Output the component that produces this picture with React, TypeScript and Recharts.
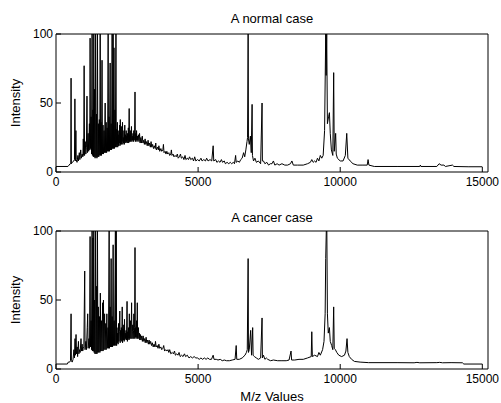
import React from 'react';
import { LineChart, Line, XAxis, YAxis } from 'recharts';

// m/z and intensity pairs
const normalSpectrum: [number, number][] = [
  [0, 4], [420, 4], [460, 5], [500, 6], [520, 6], [530, 68], [540, 6], [580, 7], [620, 8], [650, 9],
  [665, 53], [680, 8], [700, 30], [712, 9], [740, 7], [770, 12], [790, 8], [820, 14], [840, 9], [870, 16],
  [890, 10], [920, 13], [945, 11], [960, 24], [975, 12], [990, 77], [1005, 12], [1030, 22], [1050, 13], [1070, 18],
  [1090, 55], [1105, 14], [1130, 28], [1150, 15], [1175, 35], [1190, 16], [1200, 97], [1212, 17], [1235, 40], [1250, 13],
  [1270, 100], [1282, 12], [1300, 45], [1315, 11], [1330, 100], [1342, 11], [1360, 60], [1375, 10], [1395, 100], [1408, 11],
  [1425, 42], [1440, 10], [1460, 100], [1472, 11], [1490, 35], [1505, 11], [1525, 38], [1540, 12], [1555, 100], [1568, 12],
  [1585, 36], [1600, 12], [1620, 81], [1635, 13], [1655, 34], [1670, 13], [1690, 30], [1705, 14], [1730, 50], [1745, 14],
  [1765, 36], [1780, 14], [1800, 32], [1815, 15], [1835, 100], [1848, 15], [1865, 40], [1880, 15], [1905, 79], [1918, 16],
  [1940, 35], [1955, 16], [1975, 100], [1988, 17], [2010, 100], [2022, 17], [2040, 90], [2055, 17], [2075, 45], [2090, 18],
  [2110, 100], [2122, 18], [2140, 31], [2150, 20], [2160, 36], [2172, 18], [2185, 27], [2200, 19], [2212, 30], [2225, 21],
  [2238, 34], [2250, 19], [2262, 38], [2275, 20], [2288, 26], [2300, 20], [2312, 33], [2325, 22], [2340, 36], [2352, 20],
  [2365, 25], [2378, 21], [2392, 30], [2405, 20], [2420, 34], [2432, 22], [2445, 27], [2458, 21], [2470, 30], [2482, 22],
  [2495, 26], [2508, 21], [2520, 28], [2532, 23], [2545, 32], [2558, 21], [2575, 46], [2588, 22], [2602, 27], [2615, 22],
  [2628, 30], [2640, 23], [2655, 33], [2668, 22], [2682, 26], [2695, 23], [2710, 28], [2722, 22], [2738, 30], [2752, 23],
  [2765, 26], [2780, 58], [2792, 22], [2808, 28], [2822, 23], [2835, 30], [2850, 22], [2865, 26], [2880, 23], [2900, 27],
  [2920, 22], [2940, 28], [2960, 21], [2985, 25], [3010, 21], [3035, 26], [3060, 21], [3085, 23], [3110, 20], [3135, 24],
  [3160, 20], [3185, 22], [3210, 19], [3240, 23], [3265, 19], [3290, 21], [3320, 18], [3345, 22], [3370, 18], [3400, 20],
  [3430, 17], [3460, 19], [3490, 17], [3510, 21], [3530, 16], [3570, 18], [3600, 16], [3620, 19], [3650, 15], [3690, 17],
  [3720, 15], [3760, 16], [3780, 20], [3800, 14], [3840, 15], [3870, 13], [3900, 15], [3930, 13], [3970, 14], [4000, 12],
  [4040, 13], [4060, 16], [4080, 12], [4120, 13], [4150, 11], [4190, 12], [4230, 11], [4270, 13], [4300, 10], [4340, 11],
  [4380, 13], [4410, 10], [4460, 11], [4500, 9], [4540, 12], [4570, 9], [4620, 10], [4660, 9], [4700, 11], [4740, 9],
  [4800, 10], [4840, 8], [4880, 11], [4920, 8], [4980, 9], [5040, 8], [5100, 10], [5140, 8], [5200, 9], [5260, 8],
  [5300, 10], [5350, 8], [5420, 9], [5480, 8], [5530, 19], [5550, 8], [5620, 9], [5660, 7], [5720, 8], [5770, 7],
  [5820, 9], [5860, 7], [5920, 8], [5960, 6], [6020, 7], [6080, 6], [6130, 7], [6180, 6], [6240, 7], [6280, 6],
  [6320, 12], [6340, 7], [6400, 8], [6450, 7], [6500, 9], [6550, 10], [6600, 14], [6640, 11], [6680, 16], [6720, 22],
  [6740, 25], [6760, 100], [6772, 24], [6800, 20], [6840, 26], [6870, 14], [6900, 49], [6912, 12], [6950, 8], [7000, 10],
  [7050, 7], [7120, 8], [7200, 6], [7250, 50], [7262, 8], [7300, 8], [7350, 6], [7420, 7], [7480, 5], [7540, 6],
  [7600, 6], [7650, 8], [7700, 5], [7780, 6], [7850, 5], [7950, 6], [8050, 5], [8150, 5], [8250, 6], [8300, 8],
  [8350, 5], [8500, 5], [8700, 5], [8850, 6], [8950, 7], [9000, 9], [9050, 7], [9100, 8], [9150, 7], [9200, 10],
  [9250, 8], [9300, 12], [9350, 10], [9400, 12], [9450, 30], [9490, 100], [9505, 70], [9525, 100], [9550, 35], [9590, 40],
  [9620, 43], [9650, 28], [9690, 16], [9740, 12], [9770, 72], [9790, 15], [9840, 28], [9860, 13], [9900, 10], [10000, 8],
  [10100, 8], [10180, 12], [10230, 28], [10270, 10], [10350, 8], [10450, 6], [10600, 5], [10800, 5], [10950, 5], [10980, 9],
  [11010, 5], [11200, 4], [12000, 4], [12800, 4], [12820, 5], [12840, 4], [13400, 4], [13480, 6], [13550, 5], [13650, 5],
  [13700, 4], [13950, 5], [14000, 4], [14500, 3.8], [15000, 3.8],
];

const cancerSpectrum: [number, number][] = [
  [0, 3.6], [400, 3.6], [430, 5], [480, 5], [510, 6], [530, 40], [542, 6], [570, 5], [600, 7], [630, 14],
  [650, 8], [670, 22], [685, 10], [705, 25], [720, 11], [745, 16], [760, 9], [790, 20], [805, 11], [830, 14],
  [850, 12], [880, 22], [895, 13], [920, 18], [940, 13], [960, 15], [980, 16], [1010, 71], [1022, 14], [1050, 20],
  [1070, 14], [1100, 30], [1115, 40], [1130, 15], [1160, 22], [1180, 15], [1200, 96], [1212, 16], [1235, 35], [1250, 14],
  [1270, 100], [1282, 13], [1300, 95], [1312, 13], [1330, 100], [1342, 12], [1360, 50], [1372, 11], [1395, 100], [1408, 11],
  [1430, 60], [1442, 11], [1460, 100], [1472, 12], [1490, 45], [1505, 12], [1530, 38], [1545, 12], [1560, 55], [1575, 13],
  [1600, 35], [1615, 13], [1640, 48], [1655, 13], [1670, 50], [1685, 14], [1710, 40], [1725, 14], [1750, 33], [1765, 14],
  [1790, 40], [1805, 15], [1830, 30], [1845, 15], [1870, 100], [1882, 15], [1905, 45], [1920, 16], [1940, 80], [1953, 16],
  [1975, 38], [1990, 16], [2010, 90], [2022, 17], [2045, 35], [2060, 17], [2090, 100], [2102, 17], [2120, 100], [2132, 17],
  [2145, 30], [2158, 19], [2172, 26], [2185, 18], [2200, 33], [2212, 20], [2228, 27], [2245, 42], [2258, 19], [2272, 28],
  [2285, 21], [2300, 30], [2315, 20], [2330, 45], [2342, 19], [2356, 29], [2370, 21], [2385, 32], [2398, 20], [2410, 36],
  [2422, 21], [2436, 26], [2450, 22], [2465, 28], [2480, 21], [2500, 49], [2512, 20], [2526, 27], [2540, 22], [2555, 30],
  [2568, 21], [2580, 40], [2593, 22], [2607, 28], [2620, 35], [2633, 22], [2646, 29], [2660, 48], [2672, 22], [2686, 27],
  [2700, 32], [2714, 22], [2728, 28], [2740, 40], [2753, 22], [2766, 30], [2780, 88], [2792, 23], [2805, 30], [2818, 22],
  [2832, 35], [2846, 23], [2860, 48], [2872, 22], [2886, 27], [2900, 30], [2915, 22], [2932, 26], [2950, 21], [2968, 25],
  [2990, 21], [3015, 24], [3040, 20], [3065, 24], [3090, 20], [3115, 22], [3140, 19], [3170, 23], [3195, 19], [3220, 21],
  [3250, 18], [3275, 21], [3300, 18], [3330, 20], [3360, 17], [3390, 19], [3420, 16], [3450, 18], [3480, 16], [3500, 20],
  [3525, 16], [3560, 17], [3590, 15], [3620, 18], [3650, 15], [3690, 16], [3720, 14], [3760, 15], [3790, 17], [3820, 13],
  [3860, 14], [3900, 13], [3940, 14], [3970, 12], [4000, 14], [4040, 11], [4090, 12], [4130, 11], [4170, 13], [4200, 10],
  [4250, 11], [4290, 10], [4330, 12], [4370, 9], [4420, 10], [4470, 9], [4520, 11], [4560, 9], [4620, 10], [4680, 8],
  [4740, 9], [4800, 8], [4860, 9], [4920, 8], [4980, 8], [5040, 7], [5100, 8], [5160, 7], [5220, 8], [5280, 7],
  [5340, 8], [5400, 7], [5470, 7], [5530, 10], [5560, 7], [5640, 7], [5700, 6.5], [5780, 7], [5850, 6], [5920, 6.5],
  [6000, 6], [6100, 6], [6200, 6.5], [6300, 7], [6340, 17], [6360, 7], [6450, 7], [6550, 8], [6650, 10], [6700, 12],
  [6730, 14], [6760, 80], [6772, 12], [6800, 14], [6850, 28], [6880, 10], [6920, 30], [6935, 10], [6980, 9], [7050, 8],
  [7120, 7], [7200, 8], [7250, 37], [7262, 8], [7300, 10], [7350, 7], [7400, 8], [7450, 7], [7550, 6], [7650, 6.5],
  [7800, 6], [7950, 6], [8100, 6], [8200, 6.5], [8270, 13], [8290, 6.5], [8400, 6.5], [8550, 7], [8700, 7], [8850, 8],
  [8980, 9], [9000, 27], [9020, 9], [9100, 10], [9200, 9], [9250, 12], [9300, 10], [9380, 14], [9430, 20], [9470, 40],
  [9490, 80], [9510, 100], [9530, 100], [9550, 40], [9580, 26], [9620, 30], [9650, 20], [9700, 17], [9740, 14], [9770, 45],
  [9790, 15], [9830, 14], [9880, 12], [9950, 10], [10050, 9], [10150, 10], [10200, 13], [10240, 22], [10270, 12], [10320, 9],
  [10400, 7], [10500, 5.5], [10700, 5], [11000, 4.6], [12000, 4.6], [12600, 4.5], [12700, 4.8], [12800, 4.5], [13400, 4.6], [13500, 4.8],
  [13600, 4.5], [13900, 4.6], [14300, 4.5], [14350, 3.6], [15000, 3.6],
];

const xTicks = [0, 5000, 10000, 15000];
const yTicks = [0, 50, 100];
const titles = ['A normal case', 'A cancer case'];

const FONT = '"Liberation Sans", Arial, Helvetica, sans-serif';
const W = 501;

const tickStyle = { fontSize: 12, fill: '#000', fontFamily: FONT };

type PanelProps = {
  spectrum: [number, number][];
  top: number;
  height: number;
  margin: { top: number; right: number; bottom: number; left: number };
};

const Panel = ({ spectrum, top, height, margin }: PanelProps) => {
  const data = spectrum.map(([mz, intensity]) => ({ mz, intensity }));
  return (
    <div style={{ position: 'absolute', left: 0, top, width: W, height }}>
      <LineChart width={W} height={height} data={data} margin={margin}>
        <XAxis
          xAxisId="bottom"
          dataKey="mz"
          type="number"
          domain={[0, 15200]}
          ticks={xTicks}
          interval={0}
          allowDataOverflow
          height={20}
          stroke="#000"
          tickSize={-5}
          tickMargin={10}
          tick={tickStyle}
        />
        <XAxis
          xAxisId="top"
          orientation="top"
          dataKey="mz"
          type="number"
          domain={[0, 15200]}
          ticks={xTicks}
          interval={0}
          allowDataOverflow
          height={1}
          stroke="#000"
          tickSize={-5}
          tick={false}
        />
        <YAxis
          yAxisId="left"
          type="number"
          domain={[0, 100]}
          ticks={yTicks}
          interval={0}
          allowDataOverflow
          width={56}
          stroke="#000"
          tickSize={-5}
          tickMargin={8}
          tick={tickStyle}
        />
        <YAxis
          yAxisId="right"
          orientation="right"
          type="number"
          domain={[0, 100]}
          ticks={yTicks}
          interval={0}
          allowDataOverflow
          width={1}
          stroke="#000"
          tickSize={-5}
          tick={false}
        />
        <Line
          xAxisId="bottom"
          yAxisId="left"
          type="linear"
          dataKey="intensity"
          stroke="#000"
          strokeWidth={1}
          dot={false}
          activeDot={false}
          isAnimationActive={false}
        />
      </LineChart>
    </div>
  );
};

export default function App() {
  return (
    <div
      style={{
        position: 'absolute',
        left: 0,
        top: 0,
        width: W,
        height: 403,
        background: '#fff',
        overflow: 'hidden',
      }}
    >
      <Panel
        spectrum={normalSpectrum}
        top={0}
        height={200}
        margin={{ top: 33, right: 12, bottom: 8, left: 0 }}
      />
      <Panel
        spectrum={cancerSpectrum}
        top={200}
        height={203}
        margin={{ top: 30, right: 12, bottom: 14, left: 0 }}
      />
      {/* titles and axis labels */}
      <svg
        width={W}
        height={403}
        style={{ position: 'absolute', left: 0, top: 0, pointerEvents: 'none' }}
        fontFamily={FONT}
        fill="#000"
      >
        <text x={272} y={23} fontSize={13} textAnchor="middle">{titles[0]}</text>
        <text x={272} y={222} fontSize={13} textAnchor="middle">{titles[1]}</text>
        <text transform="translate(20,103) rotate(-90)" fontSize={13} textAnchor="middle">Intensity</text>
        <text transform="translate(20,300) rotate(-90)" fontSize={13} textAnchor="middle">Intensity</text>
        <text x={272} y={401} fontSize={13} textAnchor="middle">M/z Values</text>
      </svg>
    </div>
  );
}
